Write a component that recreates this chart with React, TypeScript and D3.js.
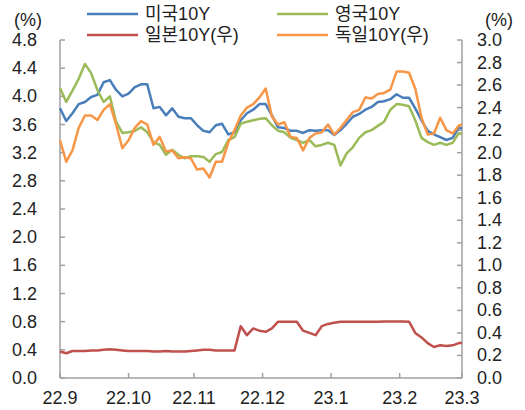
import React from "react";
import * as d3 from "d3";

const days = [0,2,4,6,8,10,12,14,16,18,20,22,24,26,28,30,32,34,36,38,40,42,44,46,48,50,52,54,56,58,60,62,64,66,68,70,72,74,76,78,80,82,84,86,88,90,92,94,96,98,100,102,104,106,108,110,112,114,116,118,120,122,124,126,128,129];

const us10 = [3.83,3.65,3.76,3.89,3.92,3.99,4.02,4.20,4.23,4.09,4.00,4.04,4.13,4.17,4.17,3.83,3.85,3.73,3.83,3.71,3.69,3.69,3.59,3.51,3.49,3.59,3.61,3.46,3.49,3.66,3.76,3.81,3.89,3.89,3.73,3.56,3.55,3.51,3.51,3.48,3.52,3.51,3.52,3.52,3.45,3.52,3.61,3.71,3.75,3.81,3.85,3.92,3.93,3.96,4.03,3.98,3.98,3.83,3.66,3.51,3.46,3.42,3.38,3.41,3.56,3.54];

const uk10 = [4.12,3.92,4.08,4.25,4.46,4.33,4.09,3.92,4.00,3.64,3.48,3.49,3.51,3.56,3.49,3.35,3.31,3.17,3.24,3.17,3.12,3.15,3.15,3.14,3.07,3.18,3.21,3.38,3.42,3.61,3.64,3.66,3.68,3.69,3.59,3.51,3.49,3.41,3.38,3.34,3.38,3.29,3.31,3.34,3.31,3.02,3.19,3.28,3.41,3.49,3.52,3.58,3.64,3.81,3.89,3.88,3.86,3.66,3.41,3.35,3.31,3.34,3.31,3.34,3.48,3.46];

const jp10 = [0.235,0.22,0.24,0.24,0.24,0.245,0.245,0.25,0.255,0.25,0.245,0.24,0.24,0.24,0.24,0.235,0.235,0.24,0.235,0.235,0.235,0.24,0.245,0.25,0.25,0.245,0.245,0.245,0.245,0.46,0.38,0.44,0.42,0.41,0.44,0.50,0.50,0.50,0.50,0.42,0.40,0.38,0.46,0.48,0.49,0.50,0.50,0.50,0.50,0.50,0.50,0.50,0.502,0.502,0.502,0.502,0.50,0.40,0.36,0.31,0.275,0.29,0.285,0.29,0.31,0.31];

const de10 = [2.11,1.92,2.02,2.22,2.33,2.33,2.29,2.38,2.43,2.25,2.04,2.11,2.22,2.28,2.25,2.07,2.14,2.01,2.02,1.95,1.96,1.95,1.85,1.86,1.78,1.92,1.92,2.09,2.20,2.33,2.40,2.43,2.49,2.57,2.32,2.25,2.27,2.14,2.13,2.02,2.13,2.17,2.18,2.25,2.16,2.22,2.29,2.36,2.38,2.49,2.48,2.52,2.53,2.56,2.72,2.72,2.71,2.57,2.31,2.16,2.17,2.31,2.20,2.17,2.24,2.25];

const monthTicks = [0, 22, 43, 65, 87, 109, 129];
const monthLabels = ["22.9", "22.10", "22.11", "22.12", "23.1", "23.2", "23.3"];
const leftTicks = [0, 0.4, 0.8, 1.2, 1.6, 2.0, 2.4, 2.8, 3.2, 3.6, 4.0, 4.4, 4.8];
const rightTicks = [0, 0.2, 0.4, 0.6, 0.8, 1.0, 1.2, 1.4, 1.6, 1.8, 2.0, 2.2, 2.4, 2.6, 2.8, 3.0];

const seriesNames = ["미국10Y", "영국10Y", "일본10Y(우)", "독일10Y(우)"];
const colors = ["#4A7EBB", "#9BBB59", "#C0504D", "#F79646"];

const W = 525, H = 410;
const L = 60, R = 462, T = 40, B = 378;
const FONT = "'Liberation Sans', Arial, 'Noto Sans CJK KR', sans-serif";

export default function App() {
  const x = d3.scaleLinear().domain([0, 129]).range([L, R]);
  const yL = d3.scaleLinear().domain([0, 4.8]).range([B, T]);
  const yR = d3.scaleLinear().domain([0, 3.0]).range([B, T]);

  const mk = (vals: number[], y: d3.ScaleLinear<number, number>) =>
    d3.line<number>().x((_, i) => x(days[i])).y((v) => y(v))(vals) || "";

  const paths = [
    { d: mk(us10, yL), c: colors[0] },
    { d: mk(uk10, yL), c: colors[1] },
    { d: mk(jp10, yR), c: colors[2] },
    { d: mk(de10, yR), c: colors[3] },
  ];

  const axisColor = "#A0A0A0";
  const textColor = "#222";
  const legend = [
    { x: 87, y: 14, i: 0 },
    { x: 277, y: 14, i: 1 },
    { x: 87, y: 35, i: 2 },
    { x: 277, y: 35, i: 3 },
  ];

  return (
    <svg width={W} height={H} style={{ position: "absolute", left: 0, top: 0, background: "#fff" }} fontFamily={FONT}>
      <rect width={W} height={H} fill="#fff" />
      {/* axes */}
      <line x1={L} x2={L} y1={T} y2={B} stroke={axisColor} strokeWidth={1.5} />
      <line x1={R} x2={R} y1={T} y2={B} stroke={axisColor} strokeWidth={1.5} />
      <line x1={L} x2={R} y1={B} y2={B} stroke={axisColor} strokeWidth={1.5} />
      {leftTicks.map((t) => (
        <g key={"l" + t}>
          <line x1={L} x2={L + 5} y1={yL(t)} y2={yL(t)} stroke={axisColor} strokeWidth={1.5} />
          <text x={37} y={yL(t)} textAnchor="end" dominantBaseline="central" fontSize={18} fill={textColor}>
            {t.toFixed(1)}
          </text>
        </g>
      ))}
      {rightTicks.map((t) => (
        <g key={"r" + t}>
          <line x1={R - 5} x2={R} y1={yR(t)} y2={yR(t)} stroke={axisColor} strokeWidth={1.5} />
          <text x={477} y={yR(t)} textAnchor="start" dominantBaseline="central" fontSize={18} fill={textColor}>
            {t.toFixed(1)}
          </text>
        </g>
      ))}
      {monthTicks.map((t, i) => (
        <g key={"m" + t}>
          <line x1={x(t)} x2={x(t)} y1={B} y2={B - 5} stroke={axisColor} strokeWidth={1.5} />
          <text x={x(t)} y={398} textAnchor="middle" dominantBaseline="central" fontSize={18} fill={textColor}>
            {monthLabels[i]}
          </text>
        </g>
      ))}
      <text x={28} y={20} textAnchor="middle" dominantBaseline="central" fontSize={18} fill={textColor}>(%)</text>
      <text x={499} y={20} textAnchor="middle" dominantBaseline="central" fontSize={18} fill={textColor}>(%)</text>
      {/* series */}
      {paths.map((p, i) => (
        <path key={i} d={p.d} fill="none" stroke={p.c} strokeWidth={2.5} strokeLinejoin="round" />
      ))}
      {/* legend */}
      {legend.map((g) => (
        <g key={"lg" + g.i}>
          <line x1={g.x} x2={g.x + 51} y1={g.y} y2={g.y} stroke={colors[g.i]} strokeWidth={2.5} />
          <text x={g.x + 58} y={g.y} dominantBaseline="central" fontSize={18} fill={textColor}>
            {seriesNames[g.i]}
          </text>
        </g>
      ))}
    </svg>
  );
}
